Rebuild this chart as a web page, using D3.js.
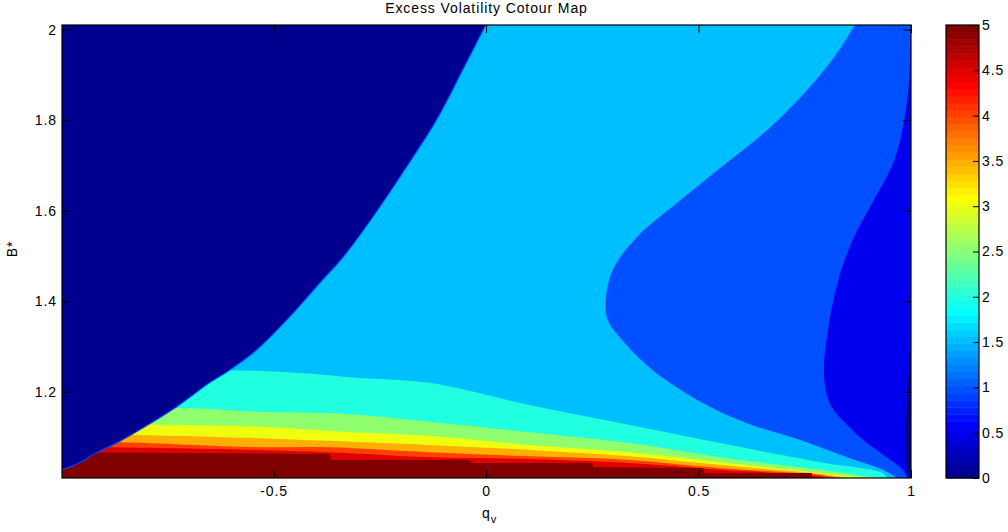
<!DOCTYPE html>
<html lang="en">
<head>
    <meta charset="UTF-8">
    <title>Excess Volatility Cotour Map</title>
    <script src="https://d3js.org/d3.v7.min.js"></script>
    <style>
        body { margin: 0; background: #ffffff; }
        svg { display: block; font-family: 'Liberation Sans', Arial, sans-serif; }
        .tick text { font-size: 14px; letter-spacing: 0.9px; fill: #000; }
        .tick line { stroke: #000; }
        .lbl { font-size: 14px; letter-spacing: 0.9px; fill: #000; }
    </style>
</head>
<body>
    <svg width="1008" height="532"></svg>

    <script>
        // axis ranges and ticks
        const qRange = [-0.998, 1];
        const bRange = [1.01, 2.01];
        const xTicks = [-0.5, 0, 0.5, 1];
        const yTicks = [1.2, 1.4, 1.6, 1.8, 2];
        const levels = [0, 0.5, 1, 1.5, 2, 2.5, 3, 3.5, 4, 4.5, 5];

        // contour edges, as [q_v, B*]
        // edge of the zero region (top left), from the top edge downwards
        const zeroEdge = [[-0.001, 2.01], [-0.055, 1.911], [-0.117, 1.800], [-0.192, 1.690],
            [-0.272, 1.579], [-0.337, 1.497], [-0.390, 1.442], [-0.463, 1.365], [-0.541, 1.292],
            [-0.604, 1.248], [-0.651, 1.220], [-0.729, 1.167], [-0.816, 1.116], [-0.870, 1.087],
            [-0.918, 1.065], [-0.958, 1.043], [-0.998, 1.028]];

        // lower levels, left to right, each ends on the bottom edge
        const level2 = [[-0.998, 1.248], [-0.604, 1.248], [-0.439, 1.242], [-0.298, 1.231],
            [-0.133, 1.220], [0.102, 1.171], [0.338, 1.127], [0.550, 1.087], [0.786, 1.045],
            [0.934, 1.021], [0.943, 1.01]];
        const level25 = [[-0.998, 1.164], [-0.691, 1.164], [-0.534, 1.156], [-0.369, 1.153],
            [-0.298, 1.149], [-0.133, 1.134], [0.102, 1.111], [0.338, 1.087], [0.550, 1.056],
            [0.786, 1.028], [0.920, 1.01]];
        const level3 = [[-0.998, 1.127], [-0.769, 1.127], [-0.534, 1.123], [-0.369, 1.114],
            [-0.133, 1.103], [0.102, 1.083], [0.338, 1.067], [0.550, 1.045], [0.786, 1.021],
            [0.887, 1.01]];
        const level35 = [[-0.998, 1.105], [-0.840, 1.105], [-0.534, 1.098], [-0.369, 1.092],
            [-0.133, 1.083], [0.102, 1.072], [0.338, 1.058], [0.550, 1.039], [0.786, 1.019],
            [0.856, 1.01]];
        const level4 = [[-0.998, 1.089], [-0.863, 1.089], [-0.534, 1.078], [-0.369, 1.078],
            [-0.133, 1.067], [0.102, 1.058], [0.338, 1.050], [0.550, 1.032], [0.786, 1.017],
            [0.826, 1.01]];
        const level45 = [[-0.998, 1.078], [-0.887, 1.078], [-0.534, 1.072], [-0.369, 1.067],
            [-0.133, 1.056], [0.102, 1.052], [0.338, 1.043], [0.550, 1.028], [0.786, 1.014],
            [0.797, 1.01]];
        const level5 = [[-0.998, 1.067], [-0.369, 1.063], [-0.364, 1.050], [-0.039, 1.050],
            [-0.034, 1.043], [0.249, 1.043], [0.253, 1.034], [0.510, 1.032], [0.515, 1.021],
            [0.767, 1.021], [0.767, 1.01]];

        // right side levels, top to bottom
        const level1 = [[0.868, 2.01], [0.826, 1.948], [0.762, 1.873], [0.662, 1.778],
            [0.545, 1.690], [0.449, 1.617], [0.355, 1.542], [0.298, 1.469],
            [0.281, 1.396], [0.286, 1.359], [0.314, 1.321], [0.392, 1.248], [0.519, 1.171],
            [0.614, 1.131], [0.739, 1.094], [0.849, 1.056], [0.934, 1.028], [0.967, 1.01]];
        const level05 = [[1.0, 1.990], [0.995, 1.880], [0.984, 1.800], [0.960, 1.710],
            [0.910, 1.619], [0.866, 1.542], [0.836, 1.469], [0.816, 1.396], [0.802, 1.321],
            [0.795, 1.248], [0.802, 1.193], [0.818, 1.160], [0.849, 1.128], [0.890, 1.092],
            [0.943, 1.056], [0.981, 1.028], [0.991, 1.01]];
        const level0 = [[1.0, 1.304], [0.993, 1.226], [0.988, 1.138], [0.988, 1.050],
            [0.995, 1.014], [1.0, 1.01]];

        const margin = { left: 62, right: 911, top: 25, bottom: 478 };
        const cbar = { left: 946, right: 979 };

        const svg = d3.select("svg");
        svg.append("rect").attr("width", 1008).attr("height", 532).attr("fill", "#fff");

        const x = d3.scaleLinear().domain(qRange).range([margin.left, margin.right]);
        const y = d3.scaleLinear().domain(bRange).range([margin.bottom, margin.top]);

        // MATLAB jet(64)
        function jetRow(row) {
            const u = k => (k < 1 || k > 47) ? 0 : k <= 16 ? k / 16 : k <= 31 ? 1 : (48 - k) / 16;
            return d3.rgb(255 * u(row - 24), 255 * u(row - 8), 255 * u(row + 8));
        }
        const cmin = levels[0], cmax = levels[levels.length - 1];
        function colorOf(v) {
            const row = Math.min(64, Math.floor((v - cmin) / (cmax - cmin) * 64) + 1);
            return jetRow(row).formatHex();
        }

        svg.append("clipPath").attr("id", "plotclip")
            .append("rect")
            .attr("x", margin.left).attr("y", margin.top)
            .attr("width", margin.right - margin.left)
            .attr("height", margin.bottom - margin.top);

        const plot = svg.append("g").attr("clip-path", "url(#plotclip)");
        const smooth = d3.line().x(d => x(d[0])).y(d => y(d[1])).curve(d3.curveCatmullRom.alpha(0.5));
        const straight = d3.line().x(d => x(d[0])).y(d => y(d[1]));

        // edge drawn with a curve, closed with straight lines through the corner points
        function region(edge, corners, gen) {
            let d = gen(edge);
            corners.forEach(p => { d += "L" + x(p[0]) + "," + y(p[1]); });
            return d + "Z";
        }

        // base band 1.5 - 2
        plot.append("rect")
            .attr("x", margin.left).attr("y", margin.top)
            .attr("width", margin.right - margin.left)
            .attr("height", margin.bottom - margin.top)
            .attr("fill", colorOf(1.5));

        const qMin = qRange[0], qMax = qRange[1], bMin = bRange[0], bMax = bRange[1];

        // right hand regions
        const rightRegions = [
            { v: 1, edge: level1, corners: [[qMax, bMin], [qMax, bMax]] },
            { v: 0.5, edge: level05, corners: [[qMax, bMin]] },
            { v: 0, edge: level0, corners: [[qMax, bMin]] }
        ];
        rightRegions.forEach(r => {
            plot.append("path")
                .attr("d", region(r.edge, r.corners, smooth))
                .attr("fill", colorOf(r.v));
        });

        // lower bands, painted from the lowest level upward
        const lowerBands = [
            { v: 2, edge: level2 }, { v: 2.5, edge: level25 }, { v: 3, edge: level3 },
            { v: 3.5, edge: level35 }, { v: 4, edge: level4 }, { v: 4.5, edge: level45 },
            { v: 5, edge: level5, stepped: true }
        ];
        lowerBands.forEach(b => {
            plot.append("path")
                .attr("d", region(b.edge, [[qMin, bMin]], b.stepped ? straight : smooth))
                .attr("fill", colorOf(b.v));
        });

        // zero region top left
        plot.append("path")
            .attr("d", region(zeroEdge, [[qMin, bMin + 0.005], [qMin, bMax]], smooth))
            .attr("fill", colorOf(0));
        plot.append("path")
            .attr("d", smooth(zeroEdge))
            .attr("fill", "none")
            .attr("stroke", "#1040ff")
            .attr("stroke-width", 1.2);

        // axes, ticks pointing inwards
        const fmt = d => String(d);
        svg.append("g")
            .attr("transform", `translate(0,${margin.bottom})`)
            .call(d3.axisBottom(x).tickValues(xTicks).tickFormat(fmt).tickSize(-8).tickPadding(8))
            .call(g => g.select(".domain").remove());
        svg.append("g")
            .attr("transform", `translate(0,${margin.top})`)
            .call(d3.axisTop(x).tickValues(xTicks).tickFormat("").tickSize(-8))
            .call(g => g.select(".domain").remove());
        svg.append("g")
            .attr("transform", `translate(${margin.left},0)`)
            .call(d3.axisLeft(y).tickValues(yTicks).tickFormat(fmt).tickSize(-8).tickPadding(5))
            .call(g => g.select(".domain").remove());
        svg.append("g")
            .attr("transform", `translate(${margin.right},0)`)
            .call(d3.axisRight(y).tickValues(yTicks).tickFormat("").tickSize(-8))
            .call(g => g.select(".domain").remove());

        svg.append("rect")
            .attr("x", margin.left).attr("y", margin.top)
            .attr("width", margin.right - margin.left)
            .attr("height", margin.bottom - margin.top)
            .attr("fill", "none").attr("stroke", "#000").attr("stroke-width", 1.2);

        // title and axis labels
        svg.append("text").attr("class", "lbl")
            .attr("x", (margin.left + margin.right) / 2).attr("y", 13)
            .attr("text-anchor", "middle")
            .text("Excess Volatility Cotour Map");

        const xl = svg.append("text").attr("class", "lbl")
            .attr("x", 482).attr("y", 518);
        xl.append("tspan").text("q");
        xl.append("tspan").attr("dy", 5).style("font-size", "11px").text("v");

        svg.append("text").attr("class", "lbl")
            .attr("transform", "translate(17,249) rotate(-90)")
            .attr("text-anchor", "middle")
            .text("B*");

        // colorbar
        const rows = d3.range(1, 65);
        const cy = d3.scaleBand().domain(rows).range([margin.bottom, margin.top]);
        svg.append("g").selectAll("rect")
            .data(rows)
            .join("rect")
            .attr("x", cbar.left)
            .attr("y", d => cy(d))
            .attr("width", cbar.right - cbar.left)
            .attr("height", cy.bandwidth() + 0.5)
            .attr("fill", d => jetRow(d).formatHex());

        const cScale = d3.scaleLinear().domain([cmin, cmax]).range([margin.bottom, margin.top]);
        svg.append("g")
            .attr("transform", `translate(${cbar.right},0)`)
            .call(d3.axisRight(cScale).tickValues(levels).tickFormat(fmt).tickSize(-6).tickPadding(3))
            .call(g => g.select(".domain").remove());
        svg.append("rect")
            .attr("x", cbar.left).attr("y", margin.top)
            .attr("width", cbar.right - cbar.left)
            .attr("height", margin.bottom - margin.top)
            .attr("fill", "none").attr("stroke", "#000").attr("stroke-width", 1.2);
    </script>
</body>
</html>
